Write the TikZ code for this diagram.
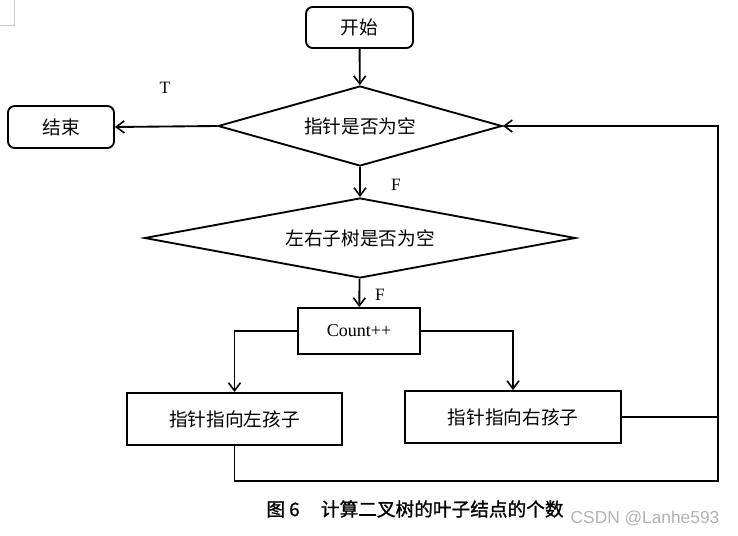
\documentclass[tikz,border=0pt]{standalone}
\usepackage{fontspec}
\setmainfont{Liberation Serif}
\newfontfamily\cjk{Noto Sans CJK SC}
\newfontfamily\capfont{Noto Sans CJK SC}[FakeBold=1.2]
\newfontfamily\marksans{Liberation Sans}
\usetikzlibrary{shapes.geometric,arrows.meta}

\begin{document}
\begin{tikzpicture}[x=0.75pt,y=-0.75pt,
    line width=1.4pt,
    every node/.style={font=\cjk\fontsize{14}{16}\selectfont},
    termbox/.style={draw,rectangle,rounded corners=5pt,inner sep=0pt},
    procbox/.style={draw,rectangle,inner sep=0pt},
    testbox/.style={draw,diamond,aspect=4,inner sep=0pt,minimum height=60pt},
    flag/.style={font=\fontsize{13}{15}\selectfont},
    arr/.style={-{Straight Barb[length=6pt,width=9pt,line width=1.2pt]}}]
    \useasboundingbox (0,0) rectangle (738,535);
    % page corner mark
    \draw[gray!40,line width=0.6pt] (0,25) -- (14,25) -- (14,0);
    % boxes
    \node[termbox,minimum width=80.25pt,minimum height=30.75pt] (start) at (359.5,27.5) {开始};
    \node[termbox,minimum width=79.5pt,minimum height=31.5pt] (stop) at (61,127) {结束};
    \node[testbox,minimum width=213pt] (isnull) at (360,126) {指针是否为空};
    \node[testbox,minimum width=323.25pt] (isleaf) at (360,238) {左右子树是否为空};
    \node[procbox,minimum width=91.5pt,minimum height=34.5pt,font=\fontsize{13.5}{15}\selectfont] (count) at (359,331) {Count++};
    \node[procbox,minimum width=161.25pt,minimum height=39pt] (goleft) at (234.5,419) {指针指向左孩子};
    \node[procbox,minimum width=162pt,minimum height=39pt] (goright) at (513,417) {指针指向右孩子};
    \coordinate (back) at (718,481);
    % labels
    \node[flag] (tlabel) at (165,88) {T};
    \node[flag] (flabela) at (396,185) {F};
    \node[flag] (flabelb) at (380,295) {F};
    % connectors
    \draw[arr] (start) -- (isnull);
    \draw[arr] (isnull.west) -- (stop.east);
    \draw[arr] (isnull) -- (isleaf);
    \draw[arr] (isleaf) -- (count);
    \draw[arr] (count.west) -| (goleft.north);
    \draw[arr] (count.east) -| (goright.north);
    \draw (goright.east) -- (goright.east -| back);
    \draw[arr] (goleft.south) |- (back) |- (isnull.east);
    % caption
    \node[font=\capfont\fontsize{14}{16}\selectfont] (caption) at (415,509) {图 6\hspace{16pt}计算二叉树的叶子结点的个数};
    \node[font=\marksans\fontsize{13}{15}\selectfont,text=gray!60] (mark) at (645,518) {CSDN @Lanhe593};
\end{tikzpicture}
\end{document}
